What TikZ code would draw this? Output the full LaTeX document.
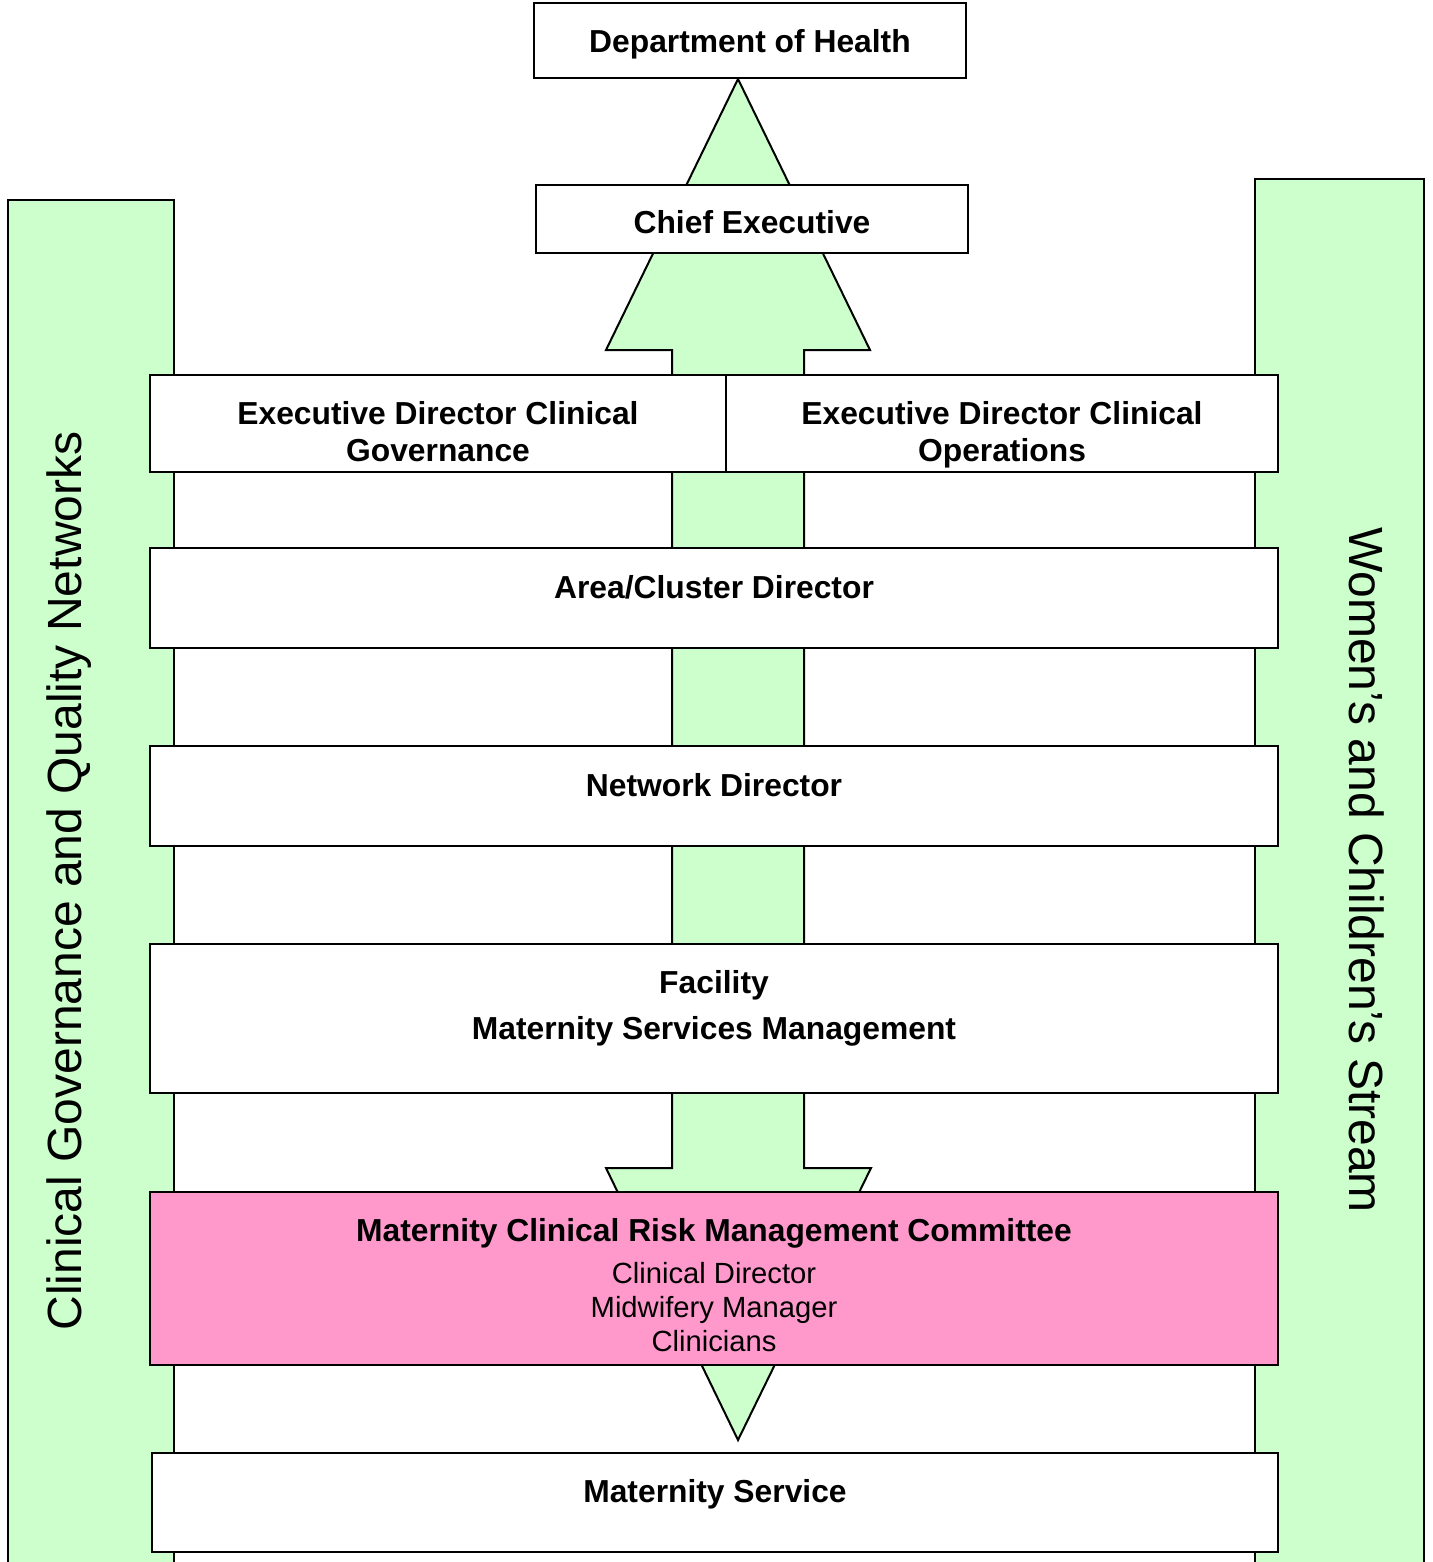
\documentclass[tikz,border=0pt]{standalone}
\usepackage{fontspec}
\setmainfont{Liberation Sans}
\usetikzlibrary{fit}
\definecolor{lgreen}{HTML}{CCFFCC}
\definecolor{pinkc}{HTML}{FF99CC}
\begin{document}
\begin{tikzpicture}[x=0.5pt,y=-0.5pt,
  boxst/.style={draw=black, line width=1pt, fill=white, inner sep=0pt},
  barst/.style={draw=black, line width=1pt, fill=lgreen},
  bartxt/.style={font=\fontsize{24}{28}\selectfont, inner sep=0pt, anchor=base},
  btxt/.style={font=\fontsize{15.9}{19}\selectfont\bfseries, anchor=base, inner sep=0pt},
  rtxt/.style={font=\fontsize{14.6}{17}\selectfont, anchor=base, inner sep=0pt}]
\useasboundingbox (0,0) rectangle (1433,1562);
\fill[white] (0,0) rectangle (1433,1562);
\begin{scope}
\clip (0,0) rectangle (1433,1562);
% side bars
\draw[barst] (8,200) rectangle (174,1620);
\draw[barst] (1255,179) rectangle (1424,1620);
\node[bartxt, rotate=90] (lefttxt) at (81,881) {Clinical Governance and Quality Networks};
\node[bartxt, rotate=-90] (righttxt) at (1349,870) {Women’s and Children’s Stream};
% double-headed arrow
\draw[barst, line join=miter] (738,79) -- (870,350) -- (804,350) -- (804,1168) -- (871,1168)
  -- (738,1440) -- (606,1168) -- (672,1168) -- (672,350) -- (606,350) -- cycle;
% boxes
\node[boxst, fit={(534,3) (966,78)}] (doh) {};
\node[boxst, fit={(536,185) (968,253)}] (ce) {};
\node[boxst, fit={(150,375) (726,472)}] (edcg) {};
\node[boxst, fit={(726,375) (1278,472)}] (edco) {};
\node[boxst, fit={(150,548) (1278,648)}] (area) {};
\node[boxst, fit={(150,746) (1278,846)}] (netw) {};
\node[boxst, fit={(150,944) (1278,1093)}] (facil) {};
\node[boxst, fill=pinkc, fit={(150,1192) (1278,1365)}] (mcrmc) {};
\node[boxst, fit={(152,1453) (1278,1552)}] (matserv) {};
% texts
\node[btxt] (tdoh) at (750,52.5) {Department of Health};
\node[btxt] (tce) at (752,233.5) {Chief Executive};
\node[btxt] (tedcg1) at (438,424.5) {Executive Director Clinical};
\node[btxt] (tedcg2) at (438,461.5) {Governance};
\node[btxt] (tedco1) at (1002,424.5) {Executive Director Clinical};
\node[btxt] (tedco2) at (1002,461.5) {Operations};
\node[btxt] (tarea) at (714,598.5) {Area/Cluster Director};
\node[btxt] (tnetw) at (714,796.5) {Network Director};
\node[btxt] (tfac1) at (714,993.5) {Facility};
\node[btxt] (tfac2) at (714,1039.5) {Maternity Services Management};
\node[btxt] (tmc) at (714,1241.5) {Maternity Clinical Risk Management Committee};
\node[rtxt] (tmc1) at (714,1283) {Clinical Director};
\node[rtxt] (tmc2) at (714,1317) {Midwifery Manager};
\node[rtxt] (tmc3) at (714,1351) {Clinicians};
\node[btxt] (tms) at (715,1502.5) {Maternity Service};
\end{scope}
\end{tikzpicture}
\end{document}
